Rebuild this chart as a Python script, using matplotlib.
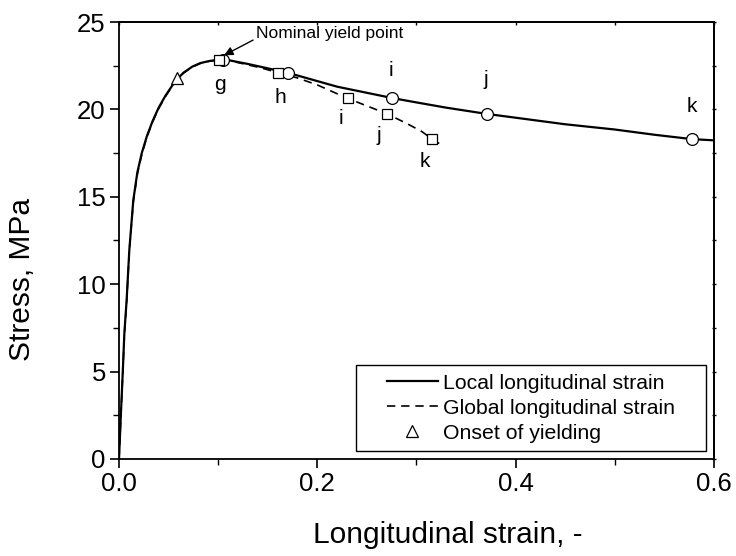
import matplotlib
matplotlib.use("Agg")
import matplotlib.pyplot as plt
from matplotlib.patches import Rectangle
from matplotlib.ticker import MultipleLocator

# local longitudinal strain curve (solid)
local_strain = [0.0, 0.002, 0.0038, 0.0054, 0.0077, 0.0104, 0.0144, 0.0185, 0.0229, 0.028, 0.034,
                0.040, 0.047, 0.0565, 0.065, 0.074, 0.082, 0.092, 0.101, 0.112, 0.13, 0.15,
                0.17, 0.195, 0.22, 0.25, 0.2756, 0.30, 0.33, 0.37, 0.41, 0.45, 0.50, 0.54,
                0.578, 0.60]
local_stress = [0.0, 2.7, 5.0, 7.2, 9.1, 11.96, 14.8, 16.4, 17.49, 18.45, 19.35,
                20.1, 20.8, 21.6, 22.1, 22.45, 22.65, 22.78, 22.83, 22.8, 22.6, 22.35,
                22.1, 21.7, 21.3, 20.95, 20.65, 20.4, 20.1, 19.75, 19.45, 19.15, 18.85, 18.55,
                18.3, 18.23]

# global longitudinal strain curve (dashed)
global_strain = [0.0, 0.002, 0.0038, 0.0054, 0.0077, 0.0104, 0.0144, 0.0185, 0.0229, 0.028, 0.034,
                 0.040, 0.047, 0.0565, 0.065, 0.074, 0.082, 0.092, 0.101, 0.112, 0.13, 0.145,
                 0.16, 0.18, 0.20, 0.2306, 0.25, 0.2706, 0.29, 0.305, 0.316, 0.327]
global_stress = [0.0, 2.6, 4.9, 7.1, 9.0, 11.9, 14.7, 16.3, 17.4, 18.4, 19.3,
                 20.05, 20.75, 21.58, 22.08, 22.43, 22.63, 22.77, 22.83, 22.78, 22.55, 22.35,
                 22.1, 21.8, 21.4, 20.63, 20.2, 19.74, 19.2, 18.75, 18.3, 17.9]

# marked points
local_pts_x = [0.105, 0.170, 0.2756, 0.3707, 0.578]
local_pts_y = [22.83, 22.1, 20.65, 19.75, 18.3]
global_pts_x = [0.1008, 0.160, 0.2306, 0.2706, 0.316]
global_pts_y = [22.83, 22.1, 20.63, 19.74, 18.3]
onset_x = [0.058]
onset_y = [21.8]

local_letters = ["g", "i", "j", "k"]
local_letter_x = [0.102, 0.274, 0.370, 0.578]
local_letter_y = [21.4, 22.25, 21.7, 20.15]
global_letters = ["h", "i", "j", "k"]
global_letter_x = [0.163, 0.2235, 0.262, 0.3086]
global_letter_y = [20.7, 19.5, 18.5, 17.0]

plt.rcParams["font.family"] = ["Liberation Sans", "DejaVu Sans"]

fig = plt.figure(figsize=(7.36, 5.56), dpi=100)
ax = fig.add_axes([0.1617, 0.1745, 0.8083, 0.7859])

ax.plot(local_strain, local_stress, color="black", lw=1.6, label="Local longitudinal strain",
        solid_joinstyle="round")
ax.plot(global_strain, global_stress, color="black", lw=1.2, ls=(0, (5, 3.5)),
        label="Global longitudinal strain")
ax.plot(local_pts_x, local_pts_y, ls="none", marker="o", ms=8.5, mfc="white", mec="black", mew=0.9)
ax.plot(global_pts_x, global_pts_y, ls="none", marker="s", ms=7, mfc="white", mec="black", mew=0.9)
ax.plot(onset_x, onset_y, ls="none", marker="^", ms=9, mfc="white", mec="black", mew=0.9,
        label="Onset of yielding")

for t, x, y in zip(local_letters, local_letter_x, local_letter_y):
    ax.text(x, y, t, ha="center", va="center", fontsize=15)
for t, x, y in zip(global_letters, global_letter_x, global_letter_y):
    ax.text(x, y, t, ha="center", va="center", fontsize=15)

ax.annotate("Nominal yield point", xy=(0.106, 23.1), xytext=(0.138, 24.35),
            fontsize=12.5, va="center", ha="left",
            arrowprops=dict(arrowstyle="-|>", color="black", lw=1.0,
                            mutation_scale=13, shrinkA=0, shrinkB=0,
                            relpos=(0.0, 0.15)))

ax.set_xlim(0, 0.6)
ax.set_ylim(0, 25)
ax.xaxis.set_major_locator(MultipleLocator(0.2))
ax.xaxis.set_minor_locator(MultipleLocator(0.1))
ax.yaxis.set_major_locator(MultipleLocator(5))
ax.yaxis.set_minor_locator(MultipleLocator(2.5))
ax.xaxis.set_major_formatter(plt.FuncFormatter(lambda v, p: f"{v:.1f}"))
ax.tick_params(which="major", direction="out", length=6.5, width=1.2, labelsize=18.5, pad=3)
ax.tick_params(which="minor", direction="out", length=4, width=1.0)

# short mirrored ticks on top and right
top = ax.secondary_xaxis("top")
top.xaxis.set_major_locator(MultipleLocator(0.1))
top.tick_params(direction="in", length=2.5, width=1.0, labeltop=False)
right = ax.secondary_yaxis("right")
right.yaxis.set_major_locator(MultipleLocator(2.5))
right.tick_params(direction="inout", length=3, width=1.0, labelright=False)
for s in list(ax.spines.values()) + [top.spines["top"], right.spines["right"]]:
    s.set_linewidth(1.3)

ax.set_xlabel("Longitudinal strain, -", fontsize=21.5)
ax.set_ylabel("Stress, MPa", fontsize=21.5)
ax.xaxis.set_label_coords(0.552, -0.143)
ax.yaxis.set_label_coords(-0.14, 0.41)

# legend box
ax.add_patch(Rectangle((0.398, 0.018), 0.589, 0.197, transform=ax.transAxes,
                       facecolor="white", edgecolor="black", lw=1.0, zorder=4))
leg = ax.legend(loc="center", bbox_to_anchor=(0.6925, 0.1165), fontsize=15.3,
                frameon=False, handlelength=2.4, handletextpad=0.25,
                borderpad=0.2, labelspacing=0.28, borderaxespad=0)
leg.set_zorder(5)

fig.savefig("out.png", dpi=100)
